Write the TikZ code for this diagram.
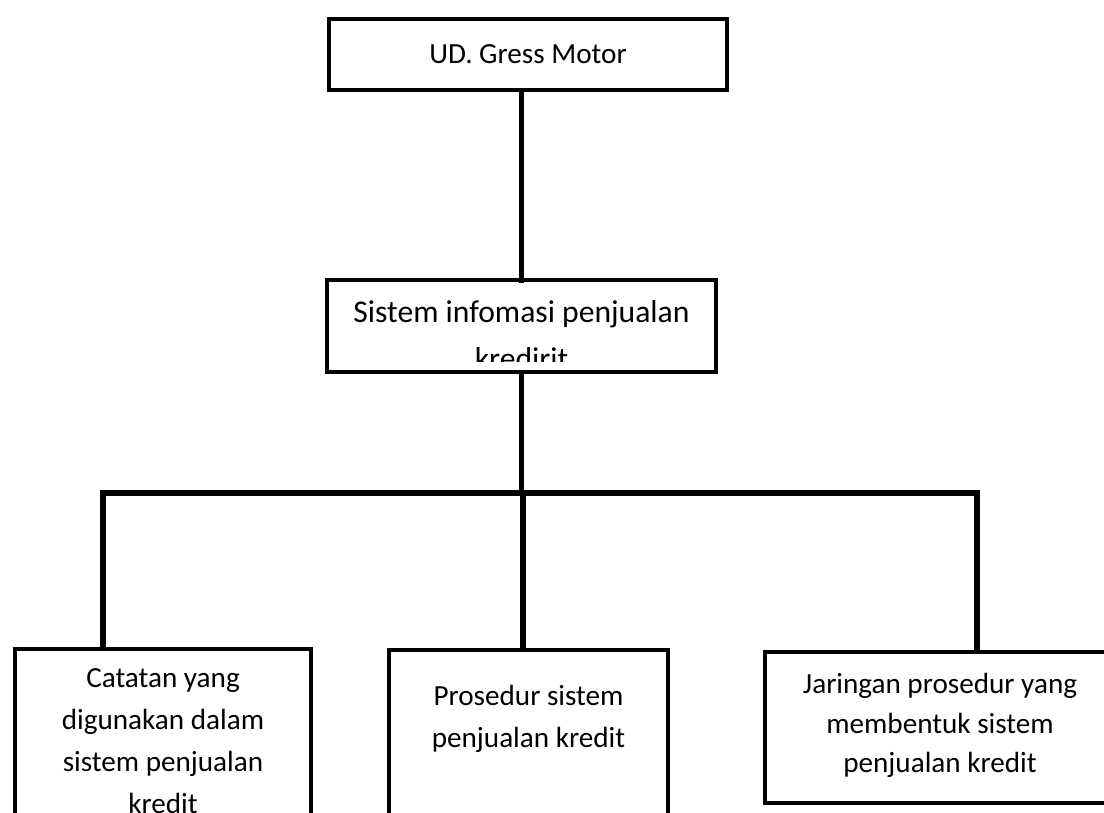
\documentclass[tikz,border=0pt]{standalone}
\usepackage{fontspec}
\setmainfont{Carlito}

\begin{document}
\begin{tikzpicture}
                [
                unit/.style={draw,line width=1.15pt,minimum width=3.98cm,minimum height=0.71cm,font=\fontsize{8.3}{10}\selectfont},
                part/.style={draw,line width=1.15pt,anchor=north,align=center,inner ysep=0pt,font=\fontsize{8.3}{11.9}\selectfont},
                link/.style={line width=1.6pt,line cap=rect}
                ]
            \useasboundingbox (0,0) rectangle (11.04,8.12);
            \clip (0,0) rectangle (11.04,8.12);
            \node[unit] (gress) at (5.28,7.575) {UD. Gress Motor};
            \begin{scope}
            \clip (3.2,4.50) rectangle (7.3,5.40);
            \node[anchor=north,align=center,inner ysep=0pt,minimum width=3.87cm,text height=0.89cm,text depth=0.02cm,font=\fontsize{9}{13.4}\selectfont] (info) at (5.215,5.32) {Sistem infomasi penjualan\\kredirit};
            \end{scope}
            \draw[line width=1.15pt] (info.south west) rectangle (info.north east);
            \node[part,minimum width=2.96cm,text height=1.64cm,text depth=1cm] (catatan) at (1.63,1.65) {Catatan yang\\digunakan dalam\\sistem penjualan\\kredit};
            \node[part,minimum width=2.79cm,text height=0.97cm,text depth=1.5cm] (prosedur) at (5.285,1.64) {Prosedur sistem\\penjualan kredit};
            \node[part,minimum width=3.50cm,text height=1.20cm,text depth=0.31cm,font=\fontsize{8.3}{11.1}\selectfont] (jaringan) at (9.40,1.62) {Jaringan prosedur yang\\membentuk sistem\\penjualan kredit};
            \coordinate (split) at (5.23,3.19);
            \coordinate (leftend) at (1.03,3.19);
            \coordinate (rightend) at (9.77,3.19);
            \draw[link] (info.north) -- (info.north |- gress.south);
            \draw[link] (info.south) -- (info.south |- split);
            \draw[link] (leftend) -- (rightend);
            \draw[link] (leftend) -- (leftend |- catatan.north);
            \draw[link] (split) -- (split |- prosedur.north);
            \draw[link] (rightend) -- (rightend |- jaringan.north);
            \end{tikzpicture}
\end{document}
